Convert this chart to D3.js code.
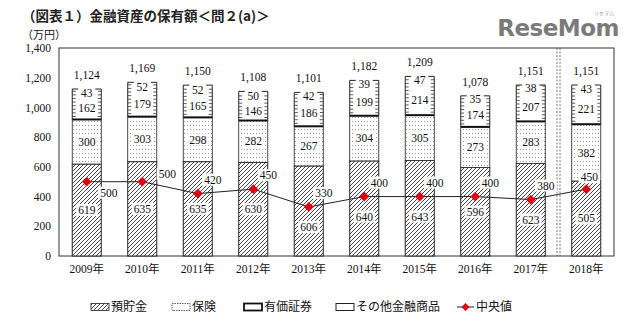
<!DOCTYPE html>
<html><head><meta charset="utf-8">
<script src="https://cdn.jsdelivr.net/npm/d3@7/dist/d3.min.js"></script>
<style>
html,body{margin:0;padding:0;background:#fff;}
svg{display:block;}
</style></head>
<body>
<svg id="c" width="640" height="325"></svg>
<script>
const years = ["2009年","2010年","2011年","2012年","2013年","2014年","2015年","2016年","2017年","2018年"];
const deposits   = [619,635,635,630,606,640,643,596,623,505];
const insurance  = [300,303,298,282,267,304,305,273,283,382];
const securities = [162,179,165,146,186,199,214,174,207,221];
const others     = [43,52,52,50,42,39,47,35,38,43];
const totals     = [1124,1169,1150,1108,1101,1182,1209,1078,1151,1151];
const medians    = [500,500,420,450,330,400,400,400,380,450];
const yTicks     = [0,200,400,600,800,1000,1200,1400];
const seriesNames = ["預貯金","保険","有価証券","その他金融商品","中央値"];

const SERIF = "'Liberation Serif','DejaVu Serif','Noto Sans CJK JP',serif";
const svg = d3.select("#c");
const L=59, R=614, T=48, B=256;
const x = d3.scaleBand().domain(years).range([L,R]).paddingInner(0.477).paddingOuter(0.2385);
const y = d3.scaleLinear().domain([0,1400]).range([B,T]);
const bw = x.bandwidth();

const defs = svg.append("defs");
const hatch = defs.append("pattern").attr("id","hatch").attr("patternUnits","userSpaceOnUse")
  .attr("width",4).attr("height",4);
hatch.append("rect").attr("width",4).attr("height",4).attr("fill","#fff");
hatch.append("path").attr("d","M-1,1 l2,-2 M0,4 l4,-4 M3,5 l2,-2").attr("stroke","#333").attr("stroke-width",0.9);
const dots = defs.append("pattern").attr("id","dots").attr("patternUnits","userSpaceOnUse")
  .attr("width",3).attr("height",4);
dots.append("rect").attr("width",3).attr("height",4).attr("fill","#fff");
dots.append("rect").attr("x",1).attr("y",1).attr("width",1).attr("height",1).attr("fill","#999");

svg.append("text").attr("x",22).attr("y",21)
  .style("font-family","'Noto Sans CJK JP',sans-serif").style("font-size","13.5px").style("font-weight","bold").attr("fill","#222")
  .text("（図表１）金融資産の保有額＜問２(a)＞");
svg.append("text").attr("x",619).attr("y",36).attr("text-anchor","end")
  .style("font-family","'DejaVu Sans',sans-serif").style("font-size","23px").style("font-weight","bold").attr("fill","#7a7a7a")
  .style("letter-spacing","-0.5px")
  .text("ReseMom");
svg.append("text").attr("x",604).attr("y",15).attr("text-anchor","middle")
  .style("font-family","'Noto Sans CJK JP',sans-serif").style("font-size","5px").attr("fill","#999").text("リセマム");

svg.append("text").attr("x",22).attr("y",39).style("font-family",SERIF).style("font-size","11px").attr("fill","#111").text("（万円）");

const ya = svg.append("g").attr("transform",`translate(${L},0)`)
  .call(d3.axisLeft(y).tickValues(yTicks).tickSize(0).tickPadding(8).tickFormat(d3.format(",")));
ya.select(".domain").remove();
ya.attr("font-family",null).attr("font-size",null);
ya.selectAll("text").style("font-family",SERIF).style("font-size","11.5px").attr("fill","#111");

const xa = svg.append("g").attr("transform",`translate(0,${B})`)
  .call(d3.axisBottom(x).tickSize(0).tickPadding(9));
xa.select(".domain").remove();
xa.attr("font-family",null).attr("font-size",null);
xa.selectAll("text").style("font-family",SERIF).style("font-size","11.5px").attr("fill","#111");

svg.append("rect").attr("x",L).attr("y",T).attr("width",R-L).attr("height",B-T)
  .attr("fill","none").attr("stroke","#333").attr("stroke-width",1);

const sepX = x(years[9]) - (x.step()-bw)/2;
[-1.5,1.5].forEach(o=>svg.append("line").attr("x1",sepX+o).attr("x2",sepX+o).attr("y1",T).attr("y2",B)
  .attr("stroke","#555").attr("stroke-width",0.8).attr("stroke-dasharray","2,1.5"));

const gBars = svg.append("g");
const labels = [];
years.forEach((yr,i)=>{
  const x0 = x(yr), cx = x0+bw/2;
  const b0=0, b1=deposits[i], b2=b1+insurance[i], b3=b2+securities[i], b4=b3+others[i];
  gBars.append("rect").attr("x",x0).attr("y",y(b1)).attr("width",bw).attr("height",y(b0)-y(b1))
    .attr("fill","url(#hatch)").attr("stroke","#222").attr("stroke-width",1);
  gBars.append("rect").attr("x",x0).attr("y",y(b2)).attr("width",bw).attr("height",y(b1)-y(b2))
    .attr("fill","url(#dots)").attr("stroke","#222").attr("stroke-width",0.8);
  gBars.append("rect").attr("x",x0).attr("y",y(b4)).attr("width",bw).attr("height",y(b2)-y(b4)).attr("fill","#fff");
  gBars.append("line").attr("x1",x0).attr("x2",x0+bw).attr("y1",y(b2)).attr("y2",y(b2)).attr("stroke","#111").attr("stroke-width",2);
  [x0, x0+bw].forEach((sx,k)=>{
    gBars.append("line").attr("x1",sx).attr("x2",sx).attr("y1",y(b4)).attr("y2",y(b2)).attr("stroke","#222").attr("stroke-width",1);
    const dir = k===0?1:-1;
    for(let ty=y(b2)-3; ty>y(b4)+1; ty-=3.6){
      gBars.append("line").attr("x1",sx).attr("x2",sx+dir*3.5).attr("y1",ty).attr("y2",ty).attr("stroke","#333").attr("stroke-width",0.8);
    }
    gBars.append("line").attr("x1",sx).attr("x2",sx+dir*6).attr("y1",y(b4)).attr("y2",y(b4)).attr("stroke","#222").attr("stroke-width",1);
  });
  let dy = (y(b0)+y(b1))/2;
  const my = y(medians[i]);
  if (Math.abs(dy-my) < 12) dy = my + 20;
  labels.push({x:cx, y:dy, t:String(deposits[i]), box:true});
  labels.push({x:cx, y:(y(b1)+y(b2))/2, t:String(insurance[i]), box:true});
  labels.push({x:cx, y:(y(b2)+y(b3))/2+1, t:String(securities[i]), box:true});
  labels.push({x:cx, y:(y(b3)+y(b4))/2+0.5, t:String(others[i]), box:true});
  labels.push({x:cx, y:y(totals[i])-14, t:d3.format(",")(totals[i]), box:false});
});

const mpts = years.map((yr,i)=>[x(yr)+bw/2, y(medians[i])]);
svg.append("path").attr("d",d3.line()(mpts)).attr("fill","none").attr("stroke","#222").attr("stroke-width",1);
svg.selectAll(".dia").data(mpts).enter().append("path")
  .attr("transform",d=>`translate(${d[0]},${d[1]})`)
  .attr("d",d3.symbol().type(d3.symbolDiamond2).size(60)).attr("fill","#e00010");
mpts.forEach((p,i)=>{
  let dx=15, dyo=-14;
  if(i===0){dx=22; dyo=11;}
  if(i===1){dx=25; dyo=-8;}
  if(i===9){dx=3; dyo=-12;}
  labels.push({x:p[0]+dx, y:p[1]+dyo, t:String(medians[i]), box:true});
});

const gL = svg.append("g");
labels.forEach(l=>{
  const g = gL.append("g");
  const r = g.append("rect").attr("fill","#fff");
  const t = g.append("text").attr("x",l.x).attr("y",l.y).attr("text-anchor","middle")
    .attr("dominant-baseline","central").style("font-family",SERIF).style("font-size","11.5px").attr("fill","#111").text(l.t);
  if(l.box){
    const bb = t.node().getBBox();
    r.attr("x",bb.x-2).attr("y",bb.y).attr("width",bb.width+4).attr("height",bb.height);
  } else r.remove();
});

const lg = svg.append("g");
const ly = 307;
const items = [
  {x:91, tx:111, kind:"hatch"},
  {x:172, tx:192, kind:"dots"},
  {x:244, tx:264, kind:"sec"},
  {x:336, tx:356, kind:"oth"},
  {x:457, tx:476, kind:"med"}
];
items.forEach((it,i)=>{
  if(it.kind==="hatch") lg.append("rect").attr("x",it.x).attr("y",ly-3.5).attr("width",18).attr("height",7).attr("fill","url(#hatch)").attr("stroke","#222").attr("stroke-width",0.8);
  if(it.kind==="dots") lg.append("rect").attr("x",it.x).attr("y",ly-3.5).attr("width",18).attr("height",7).attr("fill","#fff").attr("stroke","#333").attr("stroke-width",0.8).attr("stroke-dasharray","1.5,1");
  if(it.kind==="sec") lg.append("rect").attr("x",it.x).attr("y",ly-3.5).attr("width",18).attr("height",7).attr("fill","#fff").attr("stroke","#111").attr("stroke-width",1.8);
  if(it.kind==="oth") lg.append("rect").attr("x",it.x).attr("y",ly-3.5).attr("width",18).attr("height",7).attr("fill","#fff").attr("stroke","#222").attr("stroke-width",1);
  if(it.kind==="med"){
    lg.append("line").attr("x1",it.x).attr("x2",it.x+17).attr("y1",ly).attr("y2",ly).attr("stroke","#222").attr("stroke-width",1);
    lg.append("path").attr("transform",`translate(${it.x+8.5},${ly})`).attr("d",d3.symbol().type(d3.symbolDiamond2).size(40)).attr("fill","#e00010");
  }
  lg.append("text").attr("x",it.tx).attr("y",ly).attr("dominant-baseline","central")
    .style("font-family",SERIF).style("font-size","12px").attr("fill","#111").text(seriesNames[i]);
});
</script>
</body></html>
